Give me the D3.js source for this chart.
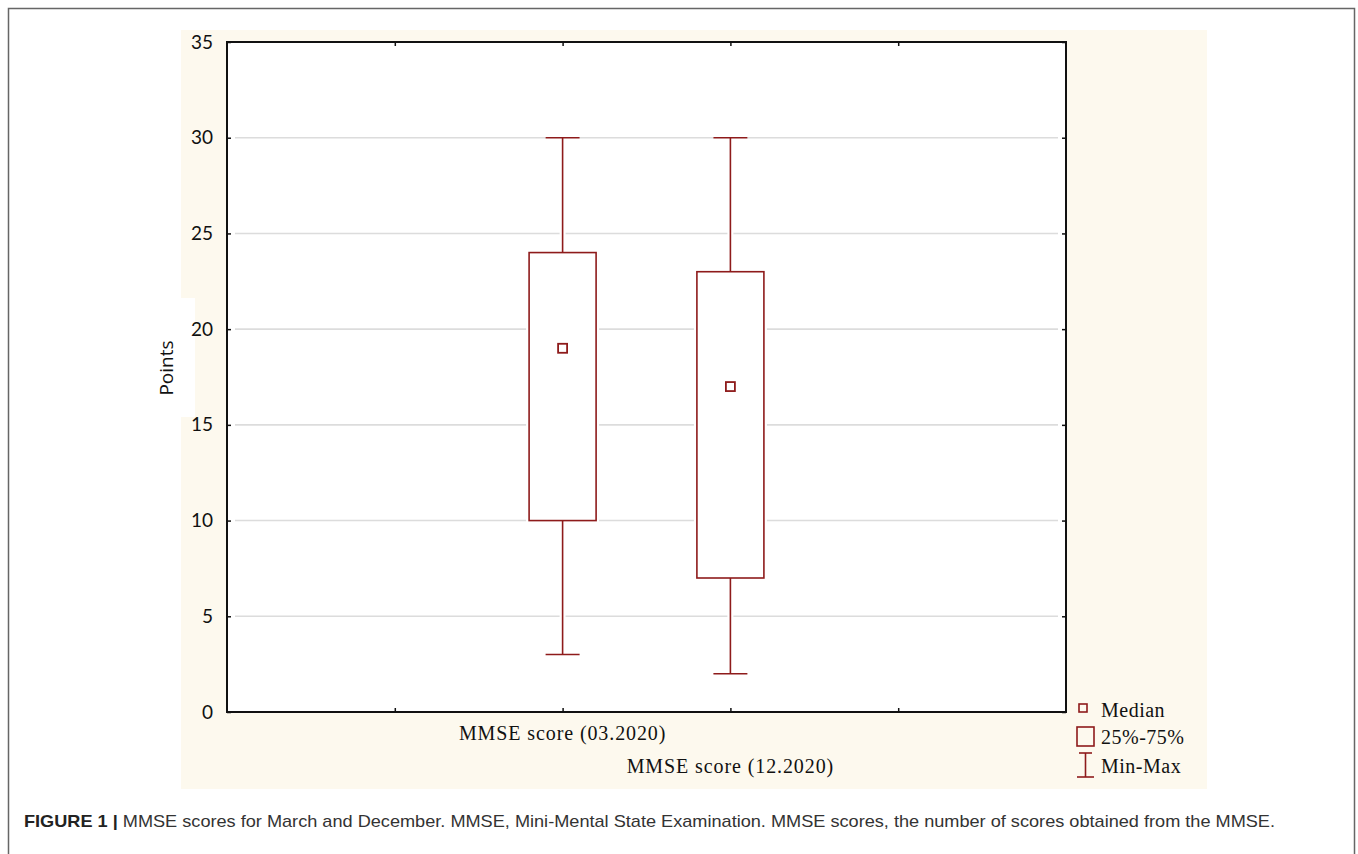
<!DOCTYPE html>
<html>
<head>
<meta charset="utf-8">
<script src="https://cdn.jsdelivr.net/npm/d3@7"></script>
<style>
  body { margin: 0; background: #fff; }
  svg { display: block; }
</style>
</head>
<body>
<svg id="chart" width="1358" height="854"></svg>
<script>
// data
var categories = ["MMSE score (03.2020)", "MMSE score (12.2020)"];
var medians = [19, 17];
var q1 = [10, 7];
var q3 = [24, 23];
var mins = [3, 2];
var maxs = [30, 30];
var yTicks = [0, 5, 10, 15, 20, 25, 30, 35];
var legendLabels = ["Median", "25%-75%", "Min-Max"];
var caption = "MMSE scores for March and December. MMSE, Mini-Mental State Examination. MMSE scores, the number of scores obtained from the MMSE.";

var red = "#8e1b1b";
var svg = d3.select("#chart");

// outer frame
svg.append("rect")
    .attr("x", 8.5).attr("y", 8.5)
    .attr("width", 1346).attr("height", 860)
    .attr("fill", "#fff")
    .attr("stroke", "#666").attr("stroke-width", 1.5);

// beige panel behind the plot, with the white patch under "Points"
svg.append("rect")
    .attr("x", 181).attr("y", 30)
    .attr("width", 1026).attr("height", 759)
    .attr("fill", "#fdf9ee");
svg.append("rect")
    .attr("x", 176).attr("y", 298)
    .attr("width", 19).attr("height", 119)
    .attr("fill", "#fff");

// plot box (note: "top" is taken by window.top)
var pLeft = 227, pRight = 1066, pTop = 42, pBottom = 712;

// slots 0..5, the two boxes sit in slots 2 and 3
var x = d3.scaleLinear().domain([0, 5]).range([pLeft, pRight]);
var y = d3.scaleLinear().domain([0, 35]).range([pBottom, pTop]);
var slot = function (i) { return i + 2; };

// plot area
svg.append("rect")
    .attr("x", pLeft).attr("y", pTop)
    .attr("width", pRight - pLeft).attr("height", pBottom - pTop)
    .attr("fill", "#fff");

// grid lines
svg.append("g")
    .selectAll("line")
    .data(yTicks.filter(function (d) { return d > 0 && d < 35; }))
    .enter()
    .append("line")
    .attr("x1", pLeft + 8).attr("x2", pRight - 8)
    .attr("y1", function (d) { return y(d); })
    .attr("y2", function (d) { return y(d); })
    .attr("stroke", "#dcdcdc").attr("stroke-width", 1.6);

// axes (ticks pointing inwards)
var axisLeft = d3.axisLeft(y).tickValues(yTicks).tickSize(-4).tickPadding(14);
var gy = svg.append("g").attr("transform", "translate(" + pLeft + ",0)").call(axisLeft);
gy.selectAll("text")
    .attr("font-family", "Lato, 'Open Sans', sans-serif")
    .attr("font-size", 19)
    .attr("fill", "#111");

svg.append("g").attr("transform", "translate(" + pRight + ",0)")
    .call(d3.axisRight(y).tickValues(yTicks).tickSize(-4).tickFormat(""));
svg.append("g").attr("transform", "translate(0," + pBottom + ")")
    .call(d3.axisBottom(x).tickValues([1, 2, 3, 4]).tickSize(-4).tickFormat(""));
svg.append("g").attr("transform", "translate(0," + pTop + ")")
    .call(d3.axisTop(x).tickValues([1, 2, 3, 4]).tickSize(-4).tickFormat(""));
svg.selectAll(".domain").remove();
svg.selectAll(".tick line").attr("stroke", "#111").attr("stroke-width", 1.5);

// y axis title
svg.append("text")
    .attr("transform", "translate(173,368) rotate(-90)")
    .attr("text-anchor", "middle")
    .attr("font-family", "'Open Sans', sans-serif")
    .attr("font-size", 19)
    .attr("fill", "#111")
    .text("Points");

// category labels, staggered
svg.append("g")
    .selectAll("text")
    .data(categories)
    .enter()
    .append("text")
    .attr("x", function (d, i) { return x(slot(i)); })
    .attr("y", function (d, i) { return i === 0 ? 740 : 773; })
    .attr("text-anchor", "middle")
    .attr("font-family", "'Liberation Serif', 'Times New Roman', serif")
    .attr("font-size", 20)
    .attr("letter-spacing", 0.9)
    .attr("fill", "#111")
    .text(function (d) { return d; });

// whisker and box segments; each drawn as a white halo first, red on top
var boxW = 67, capW = 34, medS = 9;
var segs = [];
categories.forEach(function (c, i) {
    var cx = x(slot(i));
    segs.push([cx, y(maxs[i]), cx, y(q3[i])]);
    segs.push([cx, y(q1[i]), cx, y(mins[i])]);
    segs.push([cx - capW / 2, y(maxs[i]), cx + capW / 2, y(maxs[i])]);
    segs.push([cx - capW / 2, y(mins[i]), cx + capW / 2, y(mins[i])]);
});

var boxes = svg.append("g").classed("boxes", true);
[["#fff", 6], [red, 1.6]].forEach(function (st) {
    boxes.append("g")
        .selectAll("line")
        .data(segs)
        .enter()
        .append("line")
        .attr("x1", function (d) { return d[0]; })
        .attr("y1", function (d) { return d[1]; })
        .attr("x2", function (d) { return d[2]; })
        .attr("y2", function (d) { return d[3]; })
        .attr("stroke", st[0]).attr("stroke-width", st[1]);
    boxes.append("g")
        .selectAll("rect")
        .data(categories)
        .enter()
        .append("rect")
        .attr("x", function (d, i) { return x(slot(i)) - boxW / 2; })
        .attr("y", function (d, i) { return y(q3[i]); })
        .attr("width", boxW)
        .attr("height", function (d, i) { return y(q1[i]) - y(q3[i]); })
        .attr("fill", "#fff")
        .attr("stroke", st[0]).attr("stroke-width", st[1]);
});

// median markers
boxes.append("g")
    .selectAll("rect")
    .data(medians)
    .enter()
    .append("rect")
    .attr("x", function (d, i) { return x(slot(i)) - medS / 2; })
    .attr("y", function (d) { return y(d) - medS / 2; })
    .attr("width", medS).attr("height", medS)
    .attr("fill", "#fff")
    .attr("stroke", red).attr("stroke-width", 1.8);

// frame of the plot area on top
svg.append("rect")
    .attr("x", pLeft).attr("y", pTop)
    .attr("width", pRight - pLeft).attr("height", pBottom - pTop)
    .attr("fill", "none")
    .attr("stroke", "#111").attr("stroke-width", 2);

// legend
var legend = svg.append("g").classed("legend", true);
legend.append("rect")
    .attr("x", 1079).attr("y", 704).attr("width", 8).attr("height", 8)
    .attr("fill", "none").attr("stroke", red).attr("stroke-width", 1.6);
legend.append("rect")
    .attr("x", 1077).attr("y", 727).attr("width", 17).attr("height", 19)
    .attr("fill", "none").attr("stroke", red).attr("stroke-width", 1.6);
legend.append("line")
    .attr("x1", 1085.5).attr("x2", 1085.5).attr("y1", 753).attr("y2", 777)
    .attr("stroke", red).attr("stroke-width", 1.6);
legend.append("line")
    .attr("x1", 1077).attr("x2", 1094).attr("y1", 777).attr("y2", 777)
    .attr("stroke", red).attr("stroke-width", 1.6);
legend.append("line")
    .attr("x1", 1079).attr("x2", 1092).attr("y1", 753).attr("y2", 753)
    .attr("stroke", red).attr("stroke-width", 1.6);
legend.selectAll("text")
    .data(legendLabels)
    .enter()
    .append("text")
    .attr("x", 1101)
    .attr("y", function (d, i) { return [717, 744, 773][i]; })
    .attr("font-family", "'Liberation Serif', 'Times New Roman', serif")
    .attr("font-size", 20)
    .attr("letter-spacing", 0.5)
    .attr("fill", "#111")
    .text(function (d) { return d; });

// caption
var cap = svg.append("text")
    .attr("x", 24).attr("y", 827)
    .attr("font-family", "'Liberation Sans', Arial, sans-serif")
    .attr("font-size", 17)
    .attr("textLength", 1251)
    .attr("lengthAdjust", "spacingAndGlyphs");
cap.append("tspan").attr("font-weight", "bold").attr("fill", "#222").text("FIGURE 1 | ");
cap.append("tspan").attr("fill", "#333").text(caption);
</script>
</body>
</html>
